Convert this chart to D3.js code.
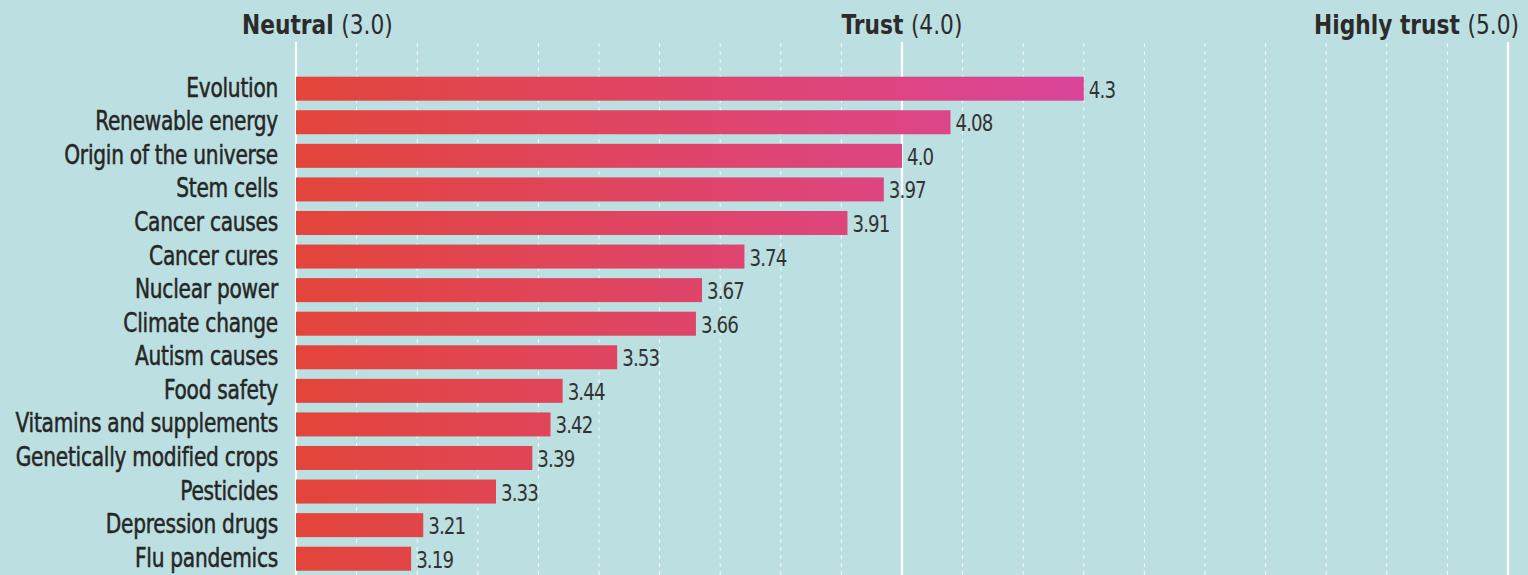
<!DOCTYPE html>
<html><head><meta charset="utf-8">
<script src="https://cdn.jsdelivr.net/npm/d3@7"></script>
<style>
html,body{margin:0;padding:0;background:#bcdfe1;}
svg{display:block;}
</style></head>
<body>
<script>
const categories = ["Evolution","Renewable energy","Origin of the universe","Stem cells","Cancer causes","Cancer cures","Nuclear power","Climate change","Autism causes","Food safety","Vitamins and supplements","Genetically modified crops","Pesticides","Depression drugs","Flu pandemics"];
const values = [4.3,4.08,4.0,3.97,3.91,3.74,3.67,3.66,3.53,3.44,3.42,3.39,3.33,3.21,3.19];
const valueLabels = ["4.3","4.08","4.0","3.97","3.91","3.74","3.67","3.66","3.53","3.44","3.42","3.39","3.33","3.21","3.19"];
const headerBold = ["Neutral","Trust","Highly trust"];
const headerValues = [3.0,4.0,5.0];
const headerNums = ["(3.0)","(4.0)","(5.0)"];

const W = 1528, H = 575;
const svg = d3.select("body").append("svg").attr("width", W).attr("height", H);
svg.append("rect").attr("width", W).attr("height", H).attr("fill", "#bcdfe1");

const x = d3.scaleLinear().domain([3, 5]).range([296, 1508]);
const y = d3.scaleBand().domain(categories).range([71.9, 575.5]).paddingInner(0.285).paddingOuter(0.1425);

const defs = svg.append("defs");
const grad = defs.append("linearGradient").attr("id", "barGrad")
  .attr("gradientUnits", "userSpaceOnUse")
  .attr("x1", x(3)).attr("x2", x(4.3)).attr("y1", 0).attr("y2", 0);
grad.append("stop").attr("offset", "0%").attr("stop-color", "#e3453a");
grad.append("stop").attr("offset", "100%").attr("stop-color", "#db4599");

// grid
const minor = d3.range(31, 50).map(d => d / 10).filter(v => Math.abs(v - 4) > 1e-6);
svg.append("g").selectAll("line").data(minor).join("line")
  .attr("x1", d => x(d)).attr("x2", d => x(d))
  .attr("y1", 43).attr("y2", H)
  .attr("stroke", "#ffffff").attr("stroke-opacity", 0.8)
  .attr("stroke-width", 1).attr("stroke-dasharray", "4,4");
svg.append("g").selectAll("line").data(headerValues).join("line")
  .attr("x1", d => x(d)).attr("x2", d => x(d))
  .attr("y1", 42).attr("y2", H)
  .attr("stroke", "#ffffff").attr("stroke-width", 2.2);

const font = "'DejaVu Sans Condensed', 'DejaVu Sans', sans-serif";

// headers
const anchors = ["start", "middle", "end"];
const offs = [-54, 0, 11];
headerBold.forEach((b, i) => {
  const t = svg.append("text")
    .attr("transform", `translate(${x(headerValues[i]) + offs[i]},34) scale(0.93,1)`)
    .attr("text-anchor", anchors[i])
    .attr("font-family", font).attr("font-size", 26)
    .attr("fill", "#2b2b2b");
  t.append("tspan").attr("font-weight", "bold").text(b + " ");
  t.append("tspan").text(headerNums[i]);
});

// bars
svg.append("g").selectAll("rect").data(categories).join("rect")
  .attr("x", x(3))
  .attr("y", d => y(d))
  .attr("width", (d, i) => x(values[i]) - x(3))
  .attr("height", y.bandwidth())
  .attr("fill", "url(#barGrad)");

// category labels
svg.append("g").selectAll("text").data(categories).join("text")
  .attr("transform", d => `translate(${x(3) - 18},${y(d) + y.bandwidth() / 2 + 8}) scale(0.83,1)`)
  .attr("text-anchor", "end")
  .attr("font-family", font).attr("font-size", 27)
  .attr("letter-spacing", -0.3)
  .attr("fill", "#262626").attr("stroke", "#262626").attr("stroke-width", 0.5)
  .text(d => d);

// value labels
svg.append("g").selectAll("text").data(categories).join("text")
  .attr("transform", (d, i) => `translate(${x(values[i]) + 5},${y(d) + y.bandwidth() / 2 + 9}) scale(0.88,1)`)
  .attr("font-family", font).attr("font-size", 23)
  .attr("letter-spacing", -1)
  .attr("fill", "#333333")
  .text((d, i) => valueLabels[i]);
</script>
</body></html>
